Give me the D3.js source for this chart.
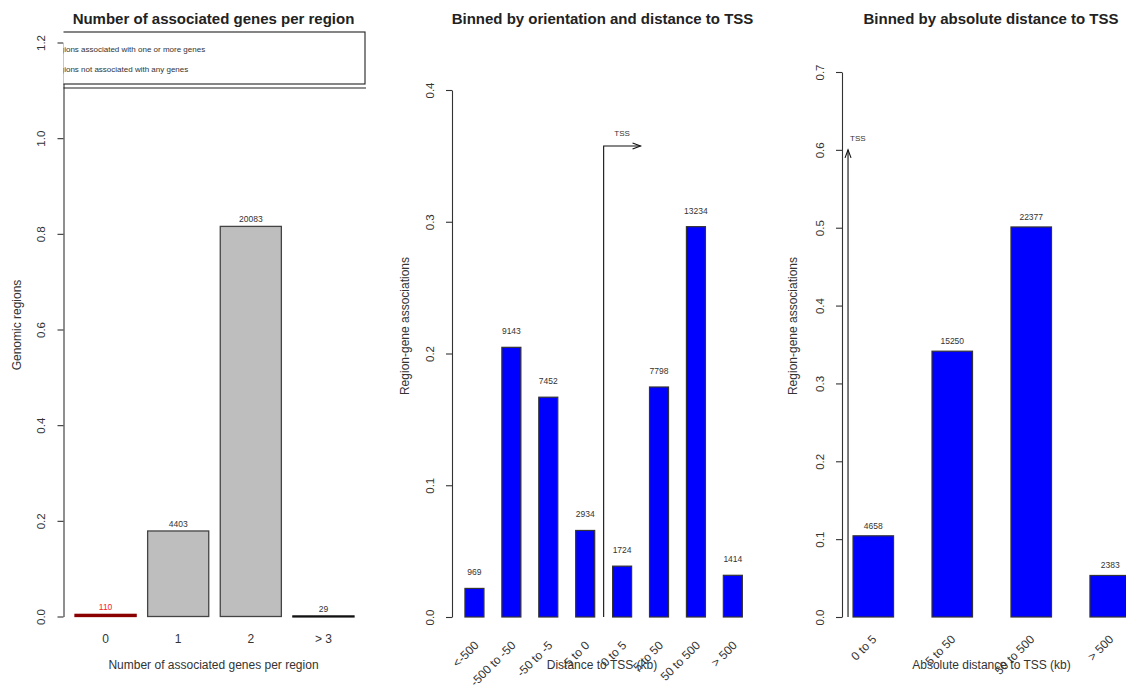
<!DOCTYPE html>
<html>
<head>
<meta charset="utf-8">
<script src="https://cdn.jsdelivr.net/npm/d3@7"></script>
<style>
  body { margin: 0; background: #fff; }
  svg { display: block; }
  text { font-family: "Liberation Sans", Arial, Helvetica, sans-serif; }
</style>
</head>
<body>
<svg id="chart" width="1126" height="686"></svg>
<script>
// ---- Panel 1: number of associated genes per region ----
const geneCountCategories = ["0", "1", "2", "> 3"];
const geneCountRegions = [110, 4403, 20083, 29];
const geneCountLegend = ["Regions associated with one or more genes", "Regions not associated with any genes"];
const geneCountTicks = [0, 0.2, 0.4, 0.6, 0.8, 1.0, 1.2];

// ---- Panel 2: binned by orientation and distance to TSS ----
const signedBins = ["<-500", "-500 to -50", "-50 to -5", "-5 to 0", "0 to 5", "5 to 50", "50 to 500", "> 500"];
const signedCounts = [969, 9143, 7452, 2934, 1724, 7798, 13234, 1414];
const signedTicks = [0, 0.1, 0.2, 0.3, 0.4];
const signedTssHeight = 0.3575;

// ---- Panel 3: binned by absolute distance to TSS ----
const absBins = ["0 to 5", "5 to 50", "50 to 500", "> 500"];
const absCounts = [4658, 15250, 22377, 2383];
const absTicks = [0, 0.1, 0.2, 0.3, 0.4, 0.5, 0.6, 0.7];
const absTssHeight = 0.6;

const svg = d3.select("#chart");
const INK = "#333";
const fmt = d3.format(".1f");

function leftAxis(x, y, ticks) {
  const g = svg.append("g")
    .attr("transform", `translate(${x},0)`)
    .call(d3.axisLeft(y).tickValues(ticks).tickFormat(fmt).tickSize(6).tickSizeOuter(0));
  g.select(".domain").attr("stroke", INK).attr("stroke-width", 1.1);
  g.selectAll(".tick line").attr("stroke", INK).attr("stroke-width", 1.1);
  g.selectAll(".tick text")
    .attr("transform", "rotate(-90)")
    .attr("x", 0).attr("y", -18.5).attr("dy", 0)
    .attr("text-anchor", "middle")
    .attr("font-size", 11.5)
    .attr("fill", INK);
  return g;
}

function title(cx, text) {
  svg.append("text").attr("x", cx).attr("y", 24)
    .attr("text-anchor", "middle").attr("font-size", 15).attr("font-weight", "bold")
    .attr("fill", "#222").text(text);
}

function xTitle(cx, text) {
  svg.append("text").attr("x", cx).attr("y", 669)
    .attr("text-anchor", "middle").attr("font-size", 12).attr("fill", INK).text(text);
}

function yTitle(x, cy, text) {
  svg.append("text").attr("transform", `translate(${x},${cy}) rotate(-90)`)
    .attr("text-anchor", "middle").attr("font-size", 12).attr("fill", INK).text(text);
}

// ================= Panel 1 =================
{
  const total = d3.sum(geneCountRegions);
  const share = geneCountRegions.map(v => v / total);
  const x = d3.scaleBand().domain(geneCountCategories).range([69.25, 359.75])
    .paddingInner(0.1586).paddingOuter(0.0793);
  const y = d3.scaleLinear().domain([0, 1.2]).range([616.5, 42.5]);

  leftAxis(63.5, y, geneCountTicks);

  const fills = ["#8B0000", "#BEBEBE", "#BEBEBE", "#111"];
  const strokes = ["#8B0000", "#444", "#444", "#111"];
  const labelColors = ["#FF2020", INK, INK, INK];

  svg.append("g").selectAll("rect").data(geneCountCategories).join("rect")
    .attr("x", d => x(d))
    .attr("width", x.bandwidth())
    .attr("y", (d, i) => y(share[i]))
    .attr("height", (d, i) => Math.max(1, y(0) - y(share[i])))
    .attr("fill", (d, i) => fills[i])
    .attr("stroke", (d, i) => strokes[i])
    .attr("stroke-width", 1.3);

  svg.append("g").selectAll("text").data(geneCountCategories).join("text")
    .attr("x", d => x(d) + x.bandwidth() / 2)
    .attr("y", (d, i) => y(share[i]) - 4)
    .attr("text-anchor", "middle").attr("font-size", 8.5)
    .attr("fill", (d, i) => labelColors[i])
    .text((d, i) => geneCountRegions[i]);

  svg.append("g").selectAll("text").data(geneCountCategories).join("text")
    .attr("x", d => x(d) + x.bandwidth() / 2)
    .attr("y", 643)
    .attr("text-anchor", "middle").attr("font-size", 12).attr("fill", INK)
    .text(d => d);

  // legend (its left part falls outside the drawable area)
  svg.append("defs").append("clipPath").attr("id", "legendClip")
    .append("rect").attr("x", 63.5).attr("y", 0).attr("width", 400).attr("height", 120);
  const lg = svg.append("g").attr("clip-path", "url(#legendClip)");
  lg.append("rect").attr("x", 40).attr("y", 32).attr("width", 325).attr("height", 52)
    .attr("fill", "#fff").attr("stroke", "#222").attr("stroke-width", 1.1);
  lg.selectAll("text").data(geneCountLegend).join("text")
    .attr("x", 49.5).attr("y", (d, i) => 52 + i * 20)
    .attr("font-size", 8).attr("fill", INK).text(d => d);
  svg.append("line").attr("x1", 63.5).attr("x2", 366).attr("y1", 88).attr("y2", 88)
    .attr("stroke", "#222").attr("stroke-width", 1.1);

  title(213.5, "Number of associated genes per region");
  xTitle(213.5, "Number of associated genes per region");
  yTitle(21, 325, "Genomic regions");
}

// ================= Panel 2 =================
{
  const total = d3.sum(signedCounts);
  const share = signedCounts.map(v => v / total);
  const x = d3.scaleBand().domain(signedBins).range([456, 751.3])
    .paddingInner(0.485).paddingOuter(0.2425);
  const y = d3.scaleLinear().domain([0, 0.4]).range([617, 90]);

  leftAxis(452, y, signedTicks);

  svg.append("g").selectAll("rect").data(signedBins).join("rect")
    .attr("x", d => x(d))
    .attr("width", x.bandwidth())
    .attr("y", (d, i) => y(share[i]))
    .attr("height", (d, i) => y(0) - y(share[i]))
    .attr("fill", "#0000FF").attr("stroke", INK).attr("stroke-width", 1.2);

  svg.append("g").selectAll("text").data(signedBins).join("text")
    .attr("x", d => x(d) + x.bandwidth() / 2)
    .attr("y", (d, i) => y(share[i]) - 13)
    .attr("text-anchor", "middle").attr("font-size", 8.5).attr("fill", INK)
    .text((d, i) => signedCounts[i]);

  svg.append("g").selectAll("text").data(signedBins).join("text")
    .attr("transform", d => `translate(${x(d) + x.bandwidth() / 2 + 5},646) rotate(-45)`)
    .attr("text-anchor", "end").attr("font-size", 12).attr("fill", INK)
    .text(d => d);

  // TSS marker between the upstream and downstream bins
  const step = x.step();
  const tx = x("0 to 5") - (step - x.bandwidth()) / 2;
  const ty = y(signedTssHeight);
  svg.append("path")
    .attr("d", `M${tx},${y(0)}V${ty}H${tx + step}`)
    .attr("fill", "none").attr("stroke", "#111").attr("stroke-width", 1.1);
  svg.append("path")
    .attr("d", `M${tx + step - 8},${ty - 3}L${tx + step},${ty}L${tx + step - 8},${ty + 3}`)
    .attr("fill", "none").attr("stroke", "#111").attr("stroke-width", 1.1);
  svg.append("text").attr("x", tx + step / 2).attr("y", ty - 10)
    .attr("text-anchor", "middle").attr("font-size", 8).attr("fill", INK).text("TSS");

  title(602.5, "Binned by orientation and distance to TSS");
  xTitle(602, "Distance to TSS (kb)");
  yTitle(409, 326, "Region-gene associations");
}

// ================= Panel 3 =================
{
  const total = d3.sum(absCounts);
  const share = absCounts.map(v => v / total);
  const x = d3.scaleBand().domain(absBins).range([833.8, 1149.7])
    .paddingInner(0.487).paddingOuter(0.2435);
  const y = d3.scaleLinear().domain([0, 0.7]).range([617, 72]);

  leftAxis(842, y, absTicks);

  svg.append("g").selectAll("rect").data(absBins).join("rect")
    .attr("x", d => x(d))
    .attr("width", x.bandwidth())
    .attr("y", (d, i) => y(share[i]))
    .attr("height", (d, i) => y(0) - y(share[i]))
    .attr("fill", "#0000FF").attr("stroke", INK).attr("stroke-width", 1.2);

  svg.append("g").selectAll("text").data(absBins).join("text")
    .attr("x", d => x(d) + x.bandwidth() / 2)
    .attr("y", (d, i) => y(share[i]) - 7)
    .attr("text-anchor", "middle").attr("font-size", 8.5).attr("fill", INK)
    .text((d, i) => absCounts[i]);

  svg.append("g").selectAll("text").data(absBins).join("text")
    .attr("transform", d => `translate(${x(d) + x.bandwidth() / 2 + 4},640) rotate(-45)`)
    .attr("text-anchor", "end").attr("font-size", 12).attr("fill", INK)
    .text(d => d);

  // TSS marker at the origin of the absolute distance scale
  const tx = x(absBins[0]) - 5;
  const ty = y(absTssHeight);
  svg.append("line").attr("x1", tx).attr("x2", tx).attr("y1", y(0)).attr("y2", ty)
    .attr("stroke", "#111").attr("stroke-width", 1.1);
  svg.append("path")
    .attr("d", `M${tx - 3},${ty + 8}L${tx},${ty}L${tx + 3},${ty + 8}`)
    .attr("fill", "none").attr("stroke", "#111").attr("stroke-width", 1.1);
  svg.append("text").attr("x", tx + 2).attr("y", ty - 9)
    .attr("font-size", 8).attr("fill", INK).text("TSS");

  title(991, "Binned by absolute distance to TSS");
  xTitle(991.5, "Absolute distance to TSS (kb)");
  yTitle(797, 326, "Region-gene associations");
}
</script>
</body>
</html>
